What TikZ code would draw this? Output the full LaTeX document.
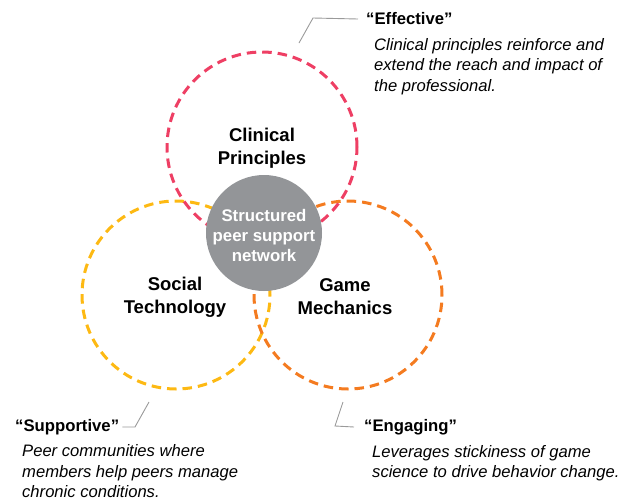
\documentclass[tikz,border=0pt]{standalone}
\usepackage{fontspec}
\setmainfont{Liberation Sans}
\definecolor{cred}{HTML}{EE3F64}
\definecolor{cyellow}{HTML}{FDB913}
\definecolor{corange}{HTML}{F47B20}
\definecolor{cgray}{HTML}{939598}
\definecolor{cline}{HTML}{9A9A9A}
\begin{document}
\begin{tikzpicture}[x=1pt,y=-1pt,
  ring/.style={line width=3pt,dash pattern=on 9.5pt off 6pt},
  ringlabel/.style={font=\fontsize{18.5}{23}\selectfont\bfseries,align=center,inner sep=0pt},
  hublabel/.style={font=\fontsize{16.8}{20}\selectfont\bfseries,align=center,text=white,inner sep=0pt},
  heading/.style={font=\fontsize{16.7}{20}\selectfont\bfseries,anchor=west,inner sep=0pt},
  body/.style={font=\fontsize{16.6}{20.5}\selectfont\itshape,align=left,anchor=north west,inner sep=0pt},
  callout/.style={draw=cline,line width=0.9pt}]
\useasboundingbox (0,0) rectangle (627,501);
% circles
\node[circle,minimum size=188pt,inner sep=0pt] (soc) at (176,295) {};
\node[circle,minimum size=188pt,inner sep=0pt] (game) at (348,295) {};
\node[circle,minimum size=190pt,inner sep=0pt] (clin) at (262,147) {};
\draw[ring,cyellow] (soc.center) circle (94pt);
\draw[ring,corange] (game.center) circle (94pt);
\draw[ring,cred] (clin.center) circle (95pt);
\node[circle,fill=cgray,minimum size=116pt,inner sep=0pt] (hub) at (264,233) {};
% labels
\node[ringlabel] (clinl) at (262,148) {Clinical\\Principles};
\node[ringlabel] (socl) at (175,297) {Social\\Technology};
\node[ringlabel] (gamel) at (345,297) {Game\\Mechanics};
\node[hublabel] (hubl) at (264,235) {Structured\\peer support\\network};
% callouts
\node[heading] (eff) at (366,19) {“Effective”};
\node[body] (effb) at (374,38) {Clinical principles reinforce and\\extend the reach and impact of\\the professional.};
\coordinate (e1) at (299,43);
\coordinate (e2) at (313,18);
\draw[callout] (e1) -- (e2) -- ([xshift=-8pt]eff.west);
\node[heading] (sup) at (15,427) {“Supportive”};
\node[body] (supb) at (22,444.5) {Peer communities where\\members help peers manage\\chronic conditions.};
\coordinate (s1) at (135,427);
\coordinate (s2) at (149,402);
\draw[callout] ([xshift=3pt]sup.east) -- (s1) -- (s2);
\node[heading] (eng) at (364,427) {“Engaging”};
\node[body] (engb) at (372,445) {Leverages stickiness of game\\science to drive behavior change.};
\coordinate (g1) at (343,402);
\coordinate (g2) at (335,426);
\draw[callout] (g1) -- (g2) -- ([xshift=-10pt]eng.west);
\end{tikzpicture}
\end{document}
